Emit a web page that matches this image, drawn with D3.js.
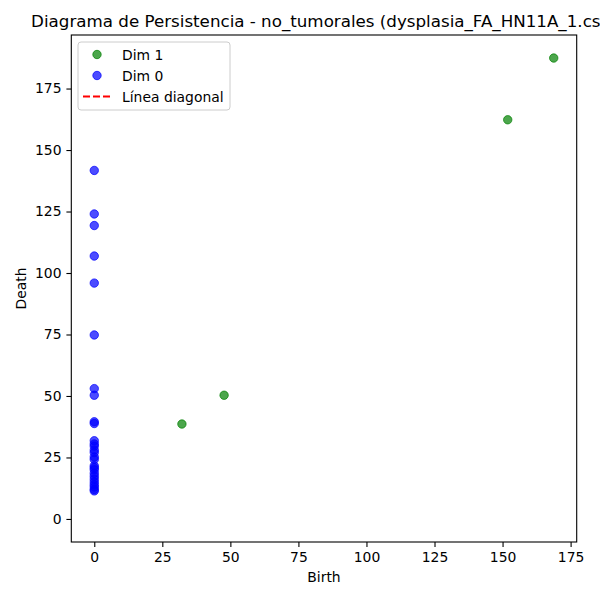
<!DOCTYPE html>
<html>
<head>
<meta charset="utf-8">
<script src="https://cdn.jsdelivr.net/npm/d3@7"></script>
<style>
  body { margin: 0; background: #fff; }
  svg { font-family: "DejaVu Sans", sans-serif; }
</style>
</head>
<body>
<svg id="chart" width="600" height="600"></svg>
<script>
// Dim 1 points (birth, death)
var dim1Birth = [168.8, 151.9, 47.7, 32.2];
var dim1Death = [187.4, 162.3, 50.3, 38.6];

// Dim 0 points, all born at 0
var dim0Death = [141.7, 124.0, 119.3, 106.9, 95.9, 74.8, 53.0, 50.3, 39.5, 38.8,
  31.8, 30.5, 29.6, 28.0, 27.0, 25.2, 24.2, 21.6, 20.8, 20.0, 18.6, 17.4,
  16.2, 15.0, 13.9, 13.0, 12.0, 11.4];
var dim0Birth = dim0Death.map(function () { return 0; });

var xTicks = [0, 25, 50, 75, 100, 125, 150, 175];
var yTicks = [0, 25, 50, 75, 100, 125, 150, 175];
var legendLabels = ['Dim 1', 'Dim 0', 'Línea diagonal'];

var title = 'Diagrama de Persistencia - no_tumorales (dysplasia_FA_HN11A_1.csv)';

var plotLeft = 71.3, plotRight = 576.7, plotTop = 35, plotBottom = 542;

// matplotlib-style 5% margins around the data
function padded(lo, hi) {
  var m = (hi - lo) * 0.05;
  return [lo - m, hi + m];
}
var x = d3.scaleLinear()
  .domain(padded(0, d3.max(dim1Birth)))
  .range([plotLeft, plotRight]);
var y = d3.scaleLinear()
  .domain(padded(0, d3.max(dim1Death)))
  .range([plotBottom, plotTop]);

var svg = d3.select('#chart');

svg.append('text')
  .attr('x', (plotLeft + plotRight) / 2)
  .attr('y', 27)
  .attr('text-anchor', 'middle')
  .attr('font-size', '16.7px')
  .text(title);

var xAxis = svg.append('g')
  .attr('transform', 'translate(0,' + plotBottom + ')')
  .call(d3.axisBottom(x).tickValues(xTicks).tickSize(4.9).tickPadding(4.9));
var yAxis = svg.append('g')
  .attr('transform', 'translate(' + plotLeft + ',0)')
  .call(d3.axisLeft(y).tickValues(yTicks).tickSize(4.9).tickPadding(4.9));

[xAxis, yAxis].forEach(function (a) {
  a.select('.domain').remove();
  a.selectAll('text').attr('font-size', '13.9px').attr('font-family', '"DejaVu Sans", sans-serif').attr('fill', '#000');
  a.selectAll('line').attr('stroke', '#000').attr('stroke-width', 1.1);
});

svg.append('rect')
  .attr('x', plotLeft).attr('y', plotTop)
  .attr('width', plotRight - plotLeft).attr('height', plotBottom - plotTop)
  .attr('fill', 'none').attr('stroke', '#000').attr('stroke-width', 1.1);

svg.append('text')
  .attr('x', (plotLeft + plotRight) / 2).attr('y', 582)
  .attr('text-anchor', 'middle').attr('font-size', '13.9px')
  .text('Birth');
svg.append('text')
  .attr('transform', 'translate(26,' + (plotTop + plotBottom) / 2 + ') rotate(-90)')
  .attr('text-anchor', 'middle').attr('font-size', '13.9px')
  .text('Death');

var green = 'green', blue = 'blue';

svg.append('g').selectAll('circle')
  .data(dim1Birth)
  .enter().append('circle')
  .attr('cx', function (d) { return x(d); })
  .attr('cy', function (d, i) { return y(dim1Death[i]); })
  .attr('r', 4.2)
  .attr('fill', green).attr('fill-opacity', 0.7)
  .attr('stroke', green).attr('stroke-opacity', 0.7).attr('stroke-width', 1);

svg.append('g').selectAll('circle')
  .data(dim0Birth)
  .enter().append('circle')
  .attr('cx', function (d) { return x(d); })
  .attr('cy', function (d, i) { return y(dim0Death[i]); })
  .attr('r', 4.2)
  .attr('fill', blue).attr('fill-opacity', 0.7)
  .attr('stroke', blue).attr('stroke-opacity', 0.7).attr('stroke-width', 1);

// legend
var lg = svg.append('g').attr('transform', 'translate(78,42)');
lg.append('rect')
  .attr('width', 152).attr('height', 68).attr('rx', 3)
  .attr('fill', '#fff').attr('fill-opacity', 0.8)
  .attr('stroke', '#ccc').attr('stroke-width', 1);
legendLabels.forEach(function (lab, i) {
  var cy = 12.5 + i * 21;
  if (i < 2) {
    var c = i === 0 ? green : blue;
    lg.append('circle').attr('cx', 19).attr('cy', cy).attr('r', 4.2)
      .attr('fill', c).attr('fill-opacity', 0.7)
      .attr('stroke', c).attr('stroke-opacity', 0.7);
  } else {
    lg.append('line').attr('x1', 5).attr('x2', 33).attr('y1', cy).attr('y2', cy)
      .attr('stroke', 'red').attr('stroke-width', 2).attr('stroke-dasharray', '7,3');
  }
  lg.append('text').attr('x', 44).attr('y', cy + 5)
    .attr('font-size', '13.9px').text(lab);
});
</script>
</body>
</html>
